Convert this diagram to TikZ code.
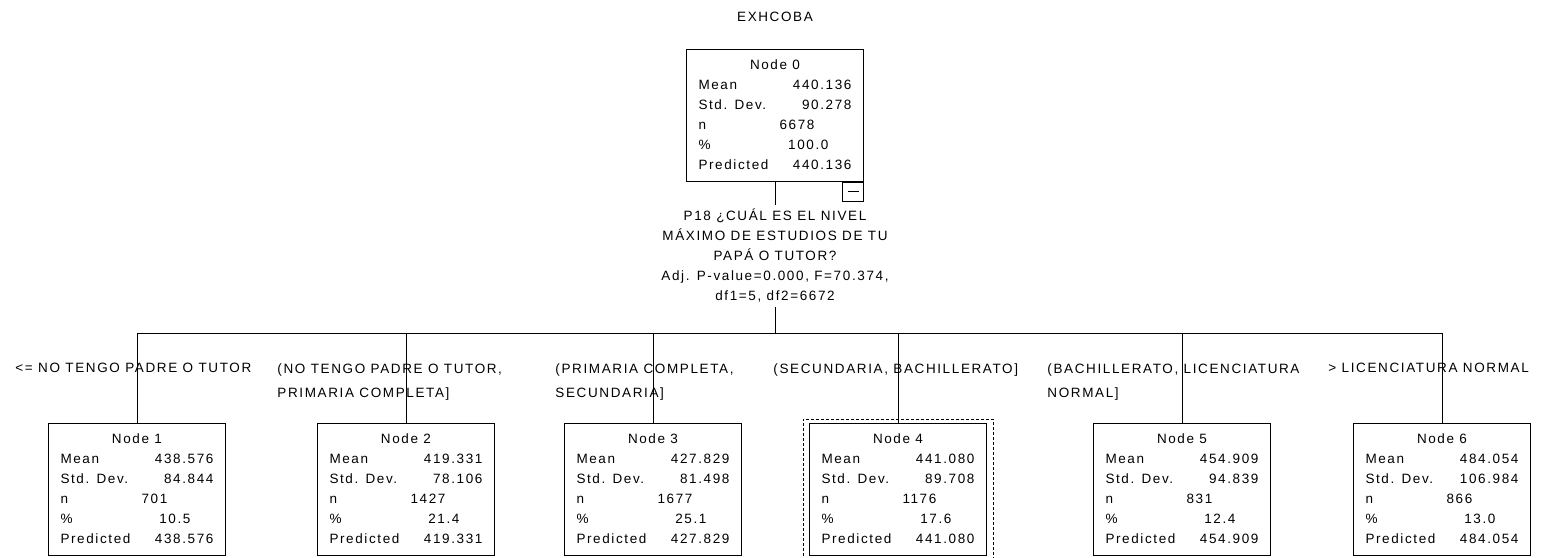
\documentclass[tikz,border=0pt]{standalone}
\usepackage{fontspec}
\setmainfont{Liberation Sans}[LetterSpace=12]
\usepackage{array}
\usetikzlibrary{positioning, fit}

\newcommand{\stats}[6]{%
  \begin{tabular}{@{}p{81pt}@{}p{72pt}@{}}
  \multicolumn{2}{c}{#1}\\
  Mean & \hfill #2\\
  Std. Dev. & \hfill #3\\
  n & #4\\
  \% & \hfill #5\rule{23pt}{0pt}\\
  Predicted & \hfill #6
  \end{tabular}}

\begin{document}
\begin{tikzpicture}[
  x=1pt, y=1pt, line width=0.9pt,
  box/.style={draw, inner xsep=12pt, inner ysep=6pt, anchor=north,
    font=\fontsize{13.5}{20}\selectfont},
  cut/.style={font=\fontsize{13.5}{24}\selectfont, align=left, inner sep=0pt, anchor=north west},
  split/.style={font=\fontsize{13.5}{20}\selectfont, align=center, inner sep=4pt}
]
\useasboundingbox (0,0) rectangle (1553,-557);
\node[font=\fontsize{13.5}{14}\selectfont] (ttl) at (775,-17) {EXHCOBA};

\node[box] (n0) at (775,-49) {\stats{Node 0}{440.136}{90.278}{6678}{100.0}{440.136}};
\node[draw, anchor=north east, inner sep=0pt, minimum width=21pt, minimum height=19pt] (tog)
  at (n0.south east) {\rule{11pt}{0.8pt}};
\node[split] (q) at (775,-256) {P18 ¿CUÁL ES EL NIVEL\\MÁXIMO DE ESTUDIOS DE TU\\PAPÁ O TUTOR?\\
  Adj. P-value=0.000, F=70.374,\\df1=5, df2=6672};
\coordinate (bar) at (775,-333);

\node[box] (n1) at (137,-423) {\stats{Node 1}{438.576}{84.844}{701}{10.5}{438.576}};
\node[box] (n2) at (406,-423) {\stats{Node 2}{419.331}{78.106}{1427}{21.4}{419.331}};
\node[box] (n3) at (653,-423) {\stats{Node 3}{427.829}{81.498}{1677}{25.1}{427.829}};
\node[box] (n4) at (898,-423) {\stats{Node 4}{441.080}{89.708}{1176}{17.6}{441.080}};
\node[box] (n5) at (1182,-423) {\stats{Node 5}{454.909}{94.839}{831}{12.4}{454.909}};
\node[box] (n6) at (1442,-423) {\stats{Node 6}{484.054}{106.984}{866}{13.0}{484.054}};
\node[draw, dashed, dash pattern=on 3pt off 2pt, fit=(n4), inner xsep=6pt, inner ysep=4pt] (sel) {};

\draw (n0.south) -- (q.north);
\draw (q.south) -- (bar);
\foreach \k in {1,...,6} \draw (bar) -| (n\k.north);

\node[cut] (c1) at (15,-363) {<= NO TENGO PADRE O TUTOR};
\node[cut] (c2) at (277,-363) {(NO TENGO PADRE O TUTOR,\\PRIMARIA COMPLETA]};
\node[cut] (c3) at (555,-363) {(PRIMARIA COMPLETA,\\SECUNDARIA]};
\node[cut] (c4) at (773,-363) {(SECUNDARIA, BACHILLERATO]};
\node[cut] (c5) at (1047,-363) {(BACHILLERATO, LICENCIATURA\\NORMAL]};
\node[cut] (c6) at (1328,-363) {> LICENCIATURA NORMAL};
\end{tikzpicture}
\end{document}
